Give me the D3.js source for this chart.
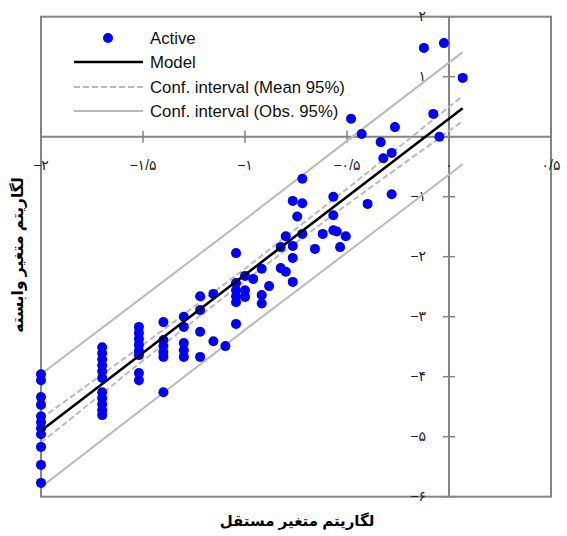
<!DOCTYPE html>
<html>
  <head>
    <script src="https://d3js.org/d3.v7.min.js"></script>
    <style>
      body { margin: 0; background: #fff; }
      text { font-family: "Liberation Sans", "DejaVu Sans", sans-serif; }
    </style>
  </head>
  <body>
    <script>

      const width = 567;
      const height = 536;

      // observations (log x, log y)
      const pointX = [
        -2, -2, -2, -2, -2, -2, -2, -2, -2, -2, -2,
        -1.70, -1.70, -1.70, -1.70, -1.70, -1.70, -1.70, -1.70, -1.70, -1.70, -1.70,
        -1.52, -1.52, -1.52, -1.52, -1.52, -1.52, -1.52, -1.52,
        -1.40, -1.40, -1.40, -1.40, -1.40, -1.40,
        -1.30, -1.30, -1.30, -1.30, -1.30,
        -1.22, -1.22, -1.22, -1.22,
        -1.155, -1.155, -1.096,
        -1.044, -1.044, -1.044, -1.044, -1.044, -1.044,
        -1.0, -1.0, -1.0, -0.96,
        -0.918, -0.918, -0.918, -0.882,
        -0.825, -0.825, -0.80, -0.80,
        -0.766, -0.766, -0.766, -0.766, -0.744,
        -0.719, -0.719, -0.719, -0.657, -0.619,
        -0.567, -0.567, -0.567, -0.55, -0.534, -0.506,
        -0.48, -0.428, -0.399, -0.335, -0.322, -0.281, -0.281, -0.265,
        -0.123, -0.077, -0.047, -0.025, 0.067
      ];
      const pointY = [
        -3.96, -4.06, -4.34, -4.47, -4.66, -4.76, -4.86, -4.96, -5.17, -5.47, -5.77,
        -3.51, -3.61, -3.71, -3.81, -3.91, -4.02, -4.26, -4.36, -4.46, -4.56, -4.64,
        -3.17, -3.27, -3.37, -3.47, -3.57, -3.64, -3.94, -4.06,
        -3.09, -3.39, -3.49, -3.59, -3.67, -4.26,
        -3.0, -3.17, -3.44, -3.56, -3.67,
        -2.66, -2.89, -3.25, -3.67,
        -2.62, -3.41, -3.49,
        -1.94, -2.44, -2.56, -2.66, -2.76, -3.12,
        -2.32, -2.56, -2.67, -2.37,
        -2.2, -2.64, -2.78, -2.49,
        -1.84, -2.19, -1.66, -2.25,
        -1.07, -1.82, -2.02, -2.42, -1.33,
        -0.7, -1.11, -1.62, -1.87, -1.62,
        -1.0, -1.31, -1.56, -1.58, -1.84, -1.66,
        0.30, 0.045, -1.12, -0.09, -0.36, -0.27, -0.96, 0.16,
        1.48, 0.38, 0.0, 1.56, 0.98
      ];

      // fitted model and intervals
      const lineX      = [-2, -1.5, -1, -0.5, 0.067];
      const modelY     = [-4.90, -3.60, -2.30, -1.00, 0.474];
      const meanUpperY = [-4.70, -3.47, -2.20, -0.87, 0.68];
      const meanLowerY = [-5.10, -3.73, -2.40, -1.13, 0.26];
      const obsUpperY  = [-3.96, -2.67, -1.38, -0.07, 1.41];
      const obsLowerY  = [-5.84, -4.53, -3.22, -1.93, -0.46];

      const xTicks = [-2, -1.5, -1, -0.5, 0, 0.5];
      const yTicks = [2, 1, 0, -1, -2, -3, -4, -5, -6];

      const legendLabels = ["Active", "Model", "Conf. interval (Mean 95%)", "Conf. interval (Obs. 95%)"];

      const svg = d3.select("body")
        .append("svg")
        .attr("width", width)
        .attr("height", height);

      const x = d3.scaleLinear().domain([-2, 0.5]).range([41, 551]);
      const y = d3.scaleLinear().domain([-6, 2]).range([496.7, 16.7]);

      const axisColor = "#858585";
      const ciColor = "#bababa";

      const faDigits = "۰۱۲۳۴۵۶۷۸۹";
      const faNum = v => {
        let s = String(Math.abs(v)).replace(/[0-9]/g, c => faDigits[+c]).replace(".", "/");
        return (v < 0 ? "\u2212" : "") + s;
      };

      // frame
      svg.append("rect")
        .attr("x", x(-2)).attr("y", y(2))
        .attr("width", x(0.5) - x(-2)).attr("height", y(-6) - y(2))
        .attr("fill", "none")
        .attr("stroke", axisColor)
        .attr("stroke-width", 2);

      // axes crossing at origin
      svg.append("line")
        .attr("x1", x(-2)).attr("x2", x(0.5))
        .attr("y1", y(0)).attr("y2", y(0))
        .attr("stroke", axisColor).attr("stroke-width", 2);
      svg.append("line")
        .attr("x1", x(0)).attr("x2", x(0))
        .attr("y1", y(2)).attr("y2", y(-6))
        .attr("stroke", axisColor).attr("stroke-width", 2);

      svg.selectAll(".xtick")
        .data(xTicks)
        .join("line")
        .attr("class", "xtick")
        .attr("x1", d => x(d)).attr("x2", d => x(d))
        .attr("y1", y(0) - 6).attr("y2", y(0) + 6)
        .attr("stroke", axisColor).attr("stroke-width", 1.5);

      svg.selectAll(".ytick")
        .data(yTicks)
        .join("line")
        .attr("class", "ytick")
        .attr("x1", x(0) - 6).attr("x2", x(0) + 6)
        .attr("y1", d => y(d)).attr("y2", d => y(d))
        .attr("stroke", axisColor).attr("stroke-width", 1.5);

      svg.selectAll(".xlab")
        .data(xTicks)
        .join("text")
        .attr("class", "xlab")
        .attr("x", d => x(d))
        .attr("y", y(0) + 33)
        .attr("text-anchor", "middle")
        .attr("font-size", 14)
        .attr("fill", "#222")
        .text(d => faNum(d));

      svg.selectAll(".ylab")
        .data(yTicks)
        .join("text")
        .attr("class", "ylab")
        .attr("x", x(0) - 23)
        .attr("y", d => y(d) + 4)
        .attr("text-anchor", "end")
        .attr("font-size", 14)
        .attr("fill", "#222")
        .text(d => faNum(d));

      // lines
      const lineGen = d3.line().x(d => x(d[0])).y(d => y(d[1]));
      const pairs = ys => lineX.map((v, i) => [v, ys[i]]);

      [obsUpperY, obsLowerY].forEach(ys => {
        svg.append("path")
          .attr("d", lineGen(pairs(ys)))
          .attr("fill", "none")
          .attr("stroke", ciColor)
          .attr("stroke-width", 2);
      });
      [meanUpperY, meanLowerY].forEach(ys => {
        svg.append("path")
          .attr("d", lineGen(pairs(ys)))
          .attr("fill", "none")
          .attr("stroke", ciColor)
          .attr("stroke-width", 2)
          .attr("stroke-dasharray", "6,3");
      });

      // points
      svg.selectAll(".pt")
        .data(pointX.map((v, i) => [v, pointY[i]]))
        .join("circle")
        .attr("class", "pt")
        .attr("cx", d => x(d[0]))
        .attr("cy", d => y(d[1]))
        .attr("r", 5)
        .attr("fill", "#0000ff");

      svg.append("path")
        .attr("d", lineGen(pairs(modelY)))
        .attr("fill", "none")
        .attr("stroke", "#000")
        .attr("stroke-width", 2.6);

      // legend
      const legend = svg.append("g");
      const rowY = [38, 62, 87, 111];
      legend.append("circle")
        .attr("cx", 108).attr("cy", rowY[0]).attr("r", 5).attr("fill", "#0000ff");
      legend.append("line")
        .attr("x1", 74).attr("x2", 143).attr("y1", rowY[1]).attr("y2", rowY[1])
        .attr("stroke", "#000").attr("stroke-width", 2.6);
      legend.append("line")
        .attr("x1", 74).attr("x2", 143).attr("y1", rowY[2]).attr("y2", rowY[2])
        .attr("stroke", ciColor).attr("stroke-width", 2).attr("stroke-dasharray", "6,3");
      legend.append("line")
        .attr("x1", 74).attr("x2", 143).attr("y1", rowY[3]).attr("y2", rowY[3])
        .attr("stroke", ciColor).attr("stroke-width", 2);
      legend.selectAll("text")
        .data(legendLabels)
        .join("text")
        .attr("x", 150)
        .attr("y", (d, i) => rowY[i] + 6)
        .attr("font-size", 16.8)
        .attr("fill", "#111")
        .text(d => d);

      // axis titles
      svg.append("text")
        .attr("x", 297).attr("y", 526)
        .attr("text-anchor", "middle")
        .attr("font-family", "DejaVu Sans")
        .attr("font-size", 15)
        .attr("font-weight", "bold")
        .attr("direction", "rtl")
        .text("لگاریتم متغیر مستقل");

      svg.append("text")
        .attr("transform", "translate(23,255) rotate(-90)")
        .attr("text-anchor", "middle")
        .attr("font-family", "DejaVu Sans")
        .attr("font-size", 15.5)
        .attr("font-weight", "bold")
        .attr("direction", "rtl")
        .text("لگاریتم متغیر وابسته");

    </script>
  </body>
</html>
